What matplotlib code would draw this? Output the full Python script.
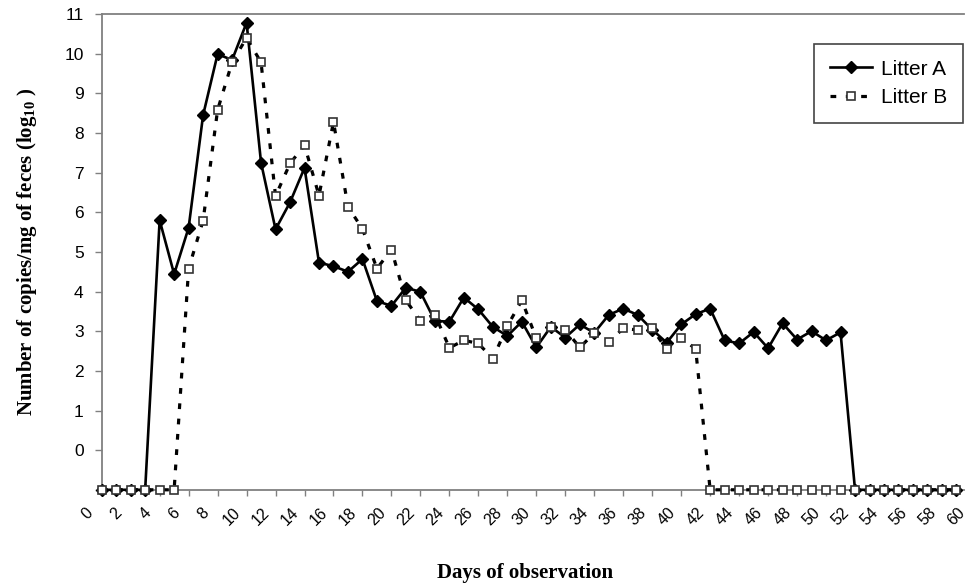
import matplotlib
matplotlib.use("Agg")
import matplotlib.pyplot as plt
import numpy as np

# days of observation, -1 = below detection (drawn on the bottom axis)
days = np.arange(1, 61)

litter_a = ([-1] * 4 +
            [5.80, 4.44, 5.61, 8.45, 9.99, 9.84, 10.78, 7.25, 5.57, 6.25,
             7.12, 4.73, 4.64, 4.50, 4.82, 3.76, 3.64, 4.10, 3.99, 3.26,
             3.24, 3.85, 3.55, 3.11, 2.88, 3.24, 2.59, 3.11, 2.84, 3.17,
             2.96, 3.41, 3.57, 3.41, 3.04, 2.71, 3.17, 3.43, 3.57, 2.77,
             2.69, 2.98, 2.57, 3.20, 2.79, 3.00, 2.77, 2.97] +
            [-1] * 8)

litter_b = ([-1] * 6 +
            [4.58, 5.79, 8.58, 9.78, 10.40, 9.78, 6.41, 7.23, 7.69, 6.42,
             8.28, 6.14, 5.58, 4.58, 5.06, 3.78, 3.26, 3.42, 2.58, 2.77,
             2.69, 2.31, 3.13, 3.78, 2.82, 3.10, 3.04, 2.59, 2.95, 2.73,
             3.07, 3.03, 3.07, 2.54, 2.84, 2.55] +
            [-1] * 18)

x_labels = list(range(0, 61, 2))
y_ticks = list(range(-1, 12))

fig = plt.figure(figsize=(9.69, 5.84), dpi=100)
ax = fig.add_axes([0.09, 0.1613, 0.9045, 0.8147])

ax.plot(days, litter_a, color="black", lw=1.9, marker="D", ms=6,
        mfc="black", mec="black", label="Litter A", clip_on=False, zorder=3)
ax.plot(days, litter_b, color="black", lw=2.3, ls=(0, (1.8, 3.0)),
        marker="s", ms=5.5, mfc="white", mec="#333333", mew=1.2,
        label="Litter B", clip_on=False, zorder=4)

ax.set_xlim(0, 60.5)
ax.set_ylim(-1, 11)

grey = "#808080"
ax.spines["right"].set_visible(False)
ax.spines["left"].set_position(("data", 1))
ax.spines["bottom"].set_bounds(1, 60.5)
ax.spines["top"].set_bounds(1, 60.5)
for s in ["left", "bottom", "top"]:
    ax.spines[s].set_color(grey)
    ax.spines[s].set_linewidth(1.3)

ax.set_xticks(x_labels)
ax.set_xticklabels([str(v) for v in x_labels], rotation=45, ha="center",
                   fontsize=11.5, family="Liberation Sans")
ax.set_xticks(days, minor=True)
ax.tick_params(axis="x", which="major", length=0, pad=11)
ax.tick_params(axis="x", which="minor", length=4, color=grey, width=1)

ax.set_yticks(y_ticks)
ax.set_yticklabels(["" if v == -1 else str(v) for v in y_ticks],
                   fontsize=12.5, family="Liberation Sans")
ax.tick_params(axis="y", length=5, color=grey, width=1, pad=8)

ax.set_xlabel("Days of observation", fontsize=15, family="Liberation Serif",
              fontweight="bold", labelpad=25)
ax.set_ylabel(r"Number of copies/mg of feces (log$_{\mathregular{10}}$ )",
              fontsize=15, family="Liberation Serif", fontweight="bold",
              labelpad=18)

leg = ax.legend(loc="upper right", bbox_to_anchor=(0.999, 0.937),
                borderaxespad=0, fancybox=False, framealpha=1,
                edgecolor="#444444", handlelength=2.0, handletextpad=0.45,
                prop={"family": "Liberation Sans", "size": 15},
                borderpad=0.75, labelspacing=0.45)
leg.get_frame().set_linewidth(1.2)

fig.savefig("out.png", dpi=100)
